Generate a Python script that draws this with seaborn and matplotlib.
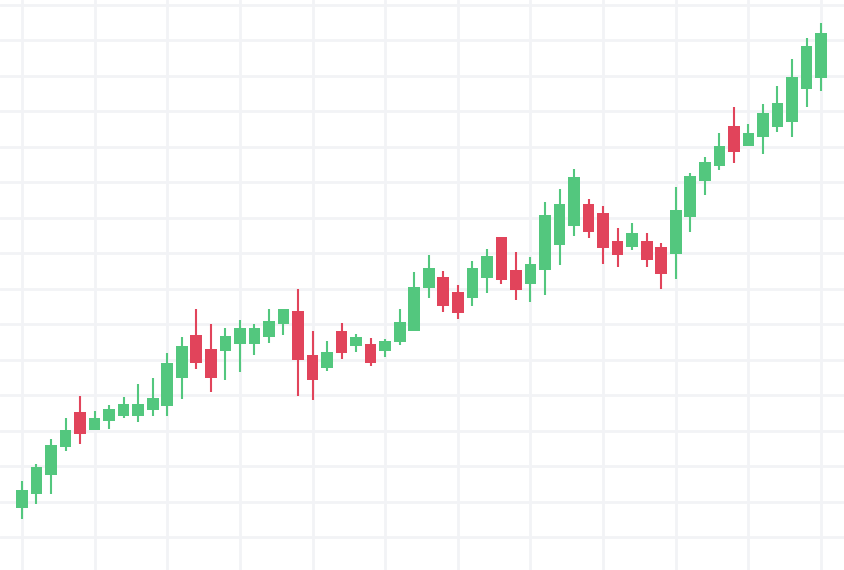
"""Candlestick chart recreated with seaborn/matplotlib."""

import numpy as np
import pandas as pd
import matplotlib
matplotlib.use("Agg")
import matplotlib.pyplot as plt
import seaborn as sns

# OHLC values (56 sessions)
opens = [108.2, 112.1, 117.5, 125.4, 135.2, 130.1, 132.7, 134.1, 134.0, 135.8,
         136.9, 144.8, 156.9, 153.0, 152.4, 154.4, 154.3, 156.3, 160.0, 163.7,
         151.3, 147.6, 158.0, 153.8, 154.4, 152.4, 154.9, 158.0, 170.1, 173.2,
         169.0, 167.3, 173.0, 184.5, 175.2, 171.3, 175.2, 182.3, 187.6, 193.8,
         191.3, 183.4, 181.7, 183.4, 181.7, 179.7, 190.1, 200.3, 204.5, 215.8,
         210.1, 212.7, 215.5, 216.9, 226.2, 229.3]
highs = [115.8, 120.6, 127.6, 133.5, 139.7, 135.5, 137.2, 139.4, 143.1, 144.8,
         151.8, 156.3, 164.2, 160.0, 158.9, 161.1, 160.0, 164.2, 164.3, 169.9,
         158.0, 155.2, 160.3, 157.2, 156.1, 155.8, 164.2, 174.6, 179.4, 174.9,
         171.0, 177.7, 181.1, 184.6, 180.3, 178.9, 194.4, 198.0, 203.7, 195.2,
         193.2, 187.0, 188.5, 185.6, 182.8, 198.6, 202.5, 207.0, 213.8, 221.1,
         216.3, 222.0, 227.0, 234.6, 240.6, 244.8]
lows = [105.1, 109.3, 112.1, 124.2, 126.2, 130.1, 130.4, 133.5, 132.4, 134.1,
        134.1, 138.9, 147.3, 140.8, 144.2, 146.5, 151.3, 154.6, 156.9, 139.7,
        138.6, 146.8, 150.1, 152.1, 148.2, 150.7, 154.1, 158.0, 167.3, 163.4,
        161.4, 165.1, 168.7, 171.3, 166.8, 166.2, 168.2, 176.6, 184.8, 184.2,
        176.9, 176.1, 180.8, 176.1, 169.9, 172.7, 185.9, 196.3, 203.4, 205.4,
        210.1, 207.9, 214.1, 212.7, 221.1, 225.6]
closes = [113.2, 119.7, 125.9, 130.1, 129.0, 133.5, 136.1, 137.5, 137.6, 139.2,
          149.0, 153.8, 149.0, 144.8, 156.6, 158.9, 158.8, 160.8, 164.2, 149.9,
          144.2, 152.1, 151.8, 156.3, 149.0, 155.2, 160.6, 170.4, 175.8, 165.1,
          163.1, 175.8, 179.2, 172.4, 169.6, 176.9, 190.7, 193.8, 201.4, 185.9,
          181.4, 179.4, 185.6, 178.0, 174.1, 192.1, 201.7, 205.6, 210.1, 208.5,
          213.8, 219.4, 222.3, 229.6, 238.3, 242.0]

UP_COLOR = "#53c77e"
DOWN_COLOR = "#e1445b"
GRID_COLOR = "#f2f3f6"

df = pd.DataFrame({"open": opens, "high": highs, "low": lows, "close": closes})
df["idx"] = np.arange(len(df))
df["up"] = df["close"] >= df["open"]
df["body_low"] = df[["open", "close"]].min(axis=1)
df["body_high"] = df[["open", "close"]].max(axis=1)

sns.set_theme(style="white")
fig = plt.figure(figsize=(8.44, 5.70), dpi=100)
ax = fig.add_axes([0, 0, 1, 1])

colors = np.where(df["up"], UP_COLOR, DOWN_COLOR)

# wicks
ax.vlines(df["idx"], df["low"], df["high"], colors=colors, linewidth=1.5, zorder=2)
# bodies
ax.bar(df["idx"], df["body_high"] - df["body_low"], bottom=df["body_low"],
       width=0.8, color=colors, linewidth=0, zorder=3)

# grid every 5 sessions / every 10 price units
ax.set_xticks(np.arange(0, len(df), 5))
ax.set_yticks(np.arange(100, 251, 10))
ax.grid(True, color=GRID_COLOR, linewidth=2, zorder=0)
ax.set_axisbelow(True)
ax.tick_params(left=False, bottom=False, labelleft=False, labelbottom=False)
for spine in ax.spines.values():
    spine.set_visible(False)

ax.set_xlim(-1.51, 56.58)
ax.set_ylim(90.7, 251.3)

fig.savefig("out.png", dpi=100, facecolor="white")
